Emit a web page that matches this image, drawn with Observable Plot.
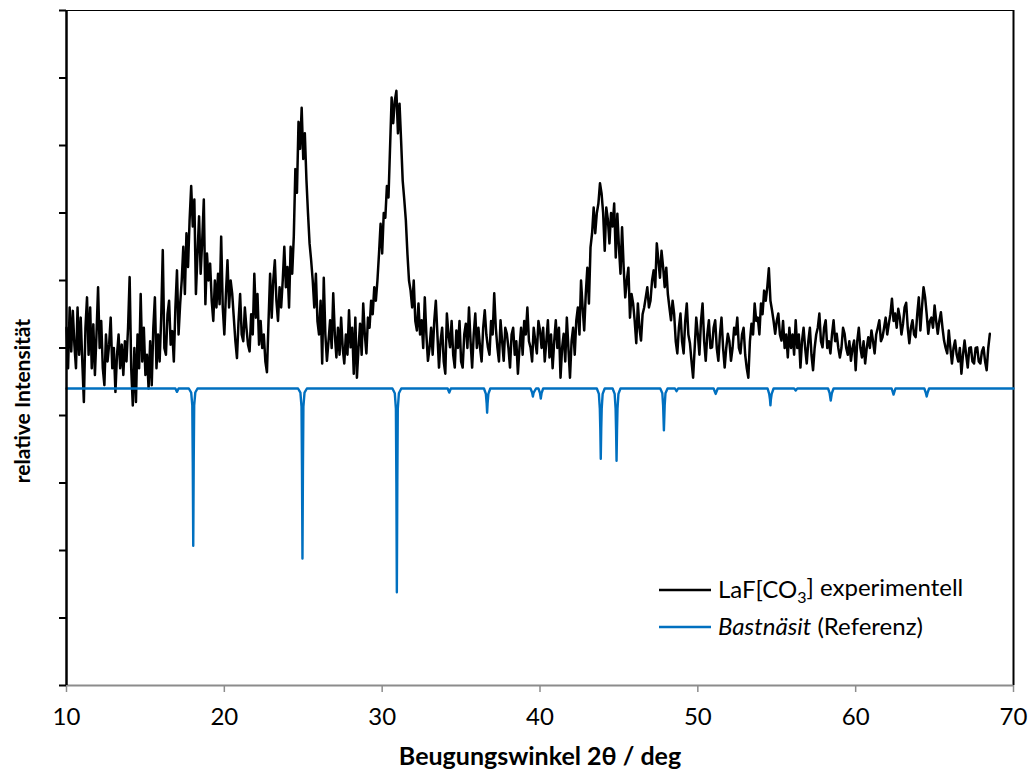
<!DOCTYPE html>
<html>
<head>
<meta charset="utf-8">
<script src="https://cdn.jsdelivr.net/npm/d3@7"></script>
<script src="https://cdn.jsdelivr.net/npm/@observablehq/plot@0.6"></script>
<style>
  body { margin: 0; background: #fff; }
  #chart { width: 1029px; height: 769px; }
</style>
</head>
<body>
<div id="chart"></div>
<script>
// Measured powder pattern, sampled every 0.1° from 10.0° to 68.5° (2θ)
const expStart = 10.0;
const expStep = 0.1;
const expIntensity = [
  530,470,560,495,555,505,470,560,490,545,
  480,420,530,575,490,560,470,535,460,520,
  590,500,540,470,445,520,480,505,545,470,
  500,435,490,520,470,505,460,510,480,530,
  605,470,415,500,420,520,470,580,480,530,
  460,490,440,510,445,530,575,470,520,480,
  545,645,500,490,550,570,505,525,480,560,
  615,520,565,600,650,580,670,620,690,740,
  680,720,580,640,695,610,660,720,565,640,
  600,625,570,540,600,560,610,565,665,560,
  520,580,630,560,600,580,545,510,485,540,
  580,520,510,560,530,505,495,550,520,610,
  545,580,505,540,500,520,480,464,540,610,
  545,600,630,570,540,590,560,600,650,590,
  620,560,650,610,665,765,730,835,795,856,
  780,818,750,700,655,630,600,560,610,540,
  520,570,477,604,520,481,510,541,500,581,
  520,486,530,490,545,500,477,520,490,556,
  501,530,462,545,456,500,536,490,566,520,
  492,545,530,570,550,590,570,600,640,684,
  640,700,693,740,723,797,871,833,866,881,
  818,862,807,748,720,689,640,600,585,560,
  600,540,526,566,520,541,500,575,520,481,
  500,530,490,540,570,520,471,510,530,480,
  462,551,520,501,540,490,471,526,500,540,
  480,471,520,536,500,560,510,471,520,551,
  500,530,501,480,530,556,520,501,490,540,
  520,581,530,501,480,541,510,481,530,521,
  500,471,520,530,490,510,462,500,530,490,
  540,520,560,510,501,480,530,510,492,540,
  526,500,530,480,510,541,486,520,470,510,
  541,500,530,456,500,521,480,545,500,456,
  510,530,490,541,560,520,600,560,526,580,
  619,566,649,670,708,670,700,714,744,729,
  700,644,708,690,655,700,680,714,634,699,
  650,610,679,620,575,600,619,545,580,566,
  540,507,566,530,511,550,560,575,590,560,
  570,600,615,590,655,630,604,644,620,590,
  619,580,560,541,570,550,510,492,530,551,
  510,492,540,566,520,507,480,456,500,545,
  520,490,540,566,510,481,520,541,500,501,
  530,541,500,481,520,545,500,471,500,521,
  510,481,500,530,520,545,500,492,520,530,
  490,470,456,510,536,520,566,540,545,520,
  566,550,585,570,590,618,570,556,540,521,
  540,551,520,511,540,500,520,486,530,500,
  520,490,541,500,520,471,510,530,500,477,
  510,530,490,467,500,520,530,551,510,501,
  530,541,500,510,492,520,541,510,521,500,
  486,500,530,521,500,490,510,481,500,511,
  467,510,530,500,486,510,477,500,516,500,
  526,510,492,520,530,541,510,516,530,545,
  520,536,550,573,540,551,530,558,545,520,
  536,560,567,530,507,530,541,520,516,550,
  575,526,560,590,575,550,521,540,545,530,
  563,540,521,540,553,530,511,500,492,526,
  500,477,500,511,490,480,500,462,490,511,
  490,471,500,501,480,477,500,501,480,477,
  495,501,480,467,500,521
];

// Reference pattern (Bastnäsit): baseline with downward reflections
const refAngle = [
  10,
  16.9, 17.0, 17.1,
  17.75, 17.9, 17.97, 18.0, 18.03, 18.06, 18.09, 18.16, 18.3,
  24.67, 24.82, 24.89, 24.92, 24.95, 24.98, 25.01, 25.08, 25.23,
  30.65, 30.8, 30.87, 30.9, 30.93, 30.96, 30.99, 31.06, 31.21,
  34.15, 34.25, 34.35,
  36.45, 36.57, 36.62, 36.65, 36.68, 36.73, 36.85,
  39.4, 39.5, 39.55, 39.6, 39.75, 39.9, 40.0, 40.05, 40.1, 40.2,
  43.6, 43.73, 43.79, 43.82, 43.85, 43.88, 43.91, 43.97, 44.1,
  44.6, 44.73, 44.79, 44.82, 44.85, 44.88, 44.91, 44.97, 45.1,
  47.62, 47.75, 47.8, 47.85, 47.9, 47.95, 48.08,
  48.55, 48.65, 48.75,
  51.0, 51.13, 51.26,
  54.42, 54.52, 54.57, 54.6, 54.63, 54.68, 54.8,
  56.1, 56.2, 56.3,
  58.25, 58.35, 58.42, 58.49, 58.6,
  62.28, 62.4, 62.52,
  64.35, 64.45, 64.5, 64.55, 64.65,
  70
];
const refIntensity = [
  440,
  440, 435, 440,
  440, 434, 415, 330, 207, 330, 415, 434, 440,
  440, 434, 413, 320, 188, 320, 413, 434, 440,
  440, 433, 410, 300, 138, 300, 410, 433, 440,
  440, 434, 440,
  440, 432, 418, 404, 418, 432, 440,
  440, 434, 428, 434, 440, 440, 433, 425, 433, 440,
  440, 432, 410, 380, 336, 380, 410, 432, 440,
  440, 432, 410, 378, 333, 378, 410, 432, 440,
  440, 433, 415, 378, 415, 433, 440,
  440, 436, 440,
  440, 432, 440,
  440, 432, 424, 415, 424, 432, 440,
  440, 437, 440,
  440, 433, 422, 433, 440,
  440, 431, 440,
  440, 433, 428, 433, 440,
  440
];

const xTicks = [10, 20, 30, 40, 50, 60, 70];
const yTicks = [0, 100, 200, 300, 400, 500, 600, 700, 800, 900, 1000];
const xTitle = "Beugungswinkel 2θ / deg";
const yTitle = "relative Intensität";

const expRows = expIntensity.map((v, i) => ({angle: +(expStart + i * expStep).toFixed(1), intensity: v}));
const refRows = refAngle.map((a, i) => ({angle: a, intensity: refIntensity[i]}));

const font = "Lato, 'Open Sans', sans-serif";
const blue = "#0070C0";

const plot = Plot.plot({
  width: 1029,
  height: 769,
  marginTop: 10,
  marginRight: 16,
  marginBottom: 84,
  marginLeft: 66,
  style: {fontFamily: font, fontSize: "22px", color: "black", background: "white", overflow: "visible"},
  x: {domain: [10, 70]},
  y: {domain: [0, 1000]},
  marks: [
    Plot.ruleY([1000], {stroke: "black", strokeWidth: 1}),
    Plot.ruleX([70], {stroke: "black", strokeWidth: 2}),
    Plot.line(expRows, {x: "angle", y: "intensity", stroke: "black", strokeWidth: 2.5, strokeLinejoin: "round"}),
    Plot.line(refRows, {x: "angle", y: "intensity", stroke: blue, strokeWidth: 2.4, strokeLinejoin: "round"}),
    Plot.axisX({ticks: xTicks, tickSize: 7, tickFormat: () => "", stroke: "#8c8c8c", strokeWidth: 1.5, label: null}),
    Plot.text(xTicks, {x: d => d, frameAnchor: "bottom", dy: 32, lineAnchor: "middle", fontSize: 24, fill: "black"}),
    Plot.ruleY([0], {stroke: "#8c8c8c", strokeWidth: 2}),
    Plot.axisY({ticks: yTicks, tickSize: 7, tickFormat: () => "", stroke: "black", strokeWidth: 2, label: null}),
    Plot.ruleX([10], {stroke: "black", strokeWidth: 2.5}),
    Plot.text([xTitle], {frameAnchor: "bottom", dy: 71, lineAnchor: "middle", fontWeight: "bold", fontSize: 25, fill: "black"})
  ]
});

const svg = d3.select(plot);

// Vertical axis title
svg.append("text")
  .attr("transform", "translate(23,401) rotate(-90)")
  .attr("text-anchor", "middle")
  .attr("dy", "0.35em")
  .attr("font-family", font)
  .attr("font-size", 21)
  .attr("font-weight", "bold")
  .attr("fill", "black")
  .text(yTitle);

// Legend inside the plot area
const legend = svg.append("g")
  .attr("font-family", font)
  .attr("font-size", 24)
  .attr("fill", "black")
  .attr("text-anchor", "start");
const items = [
  {color: "black", y: 590},
  {color: blue, y: 627}
];
items.forEach(d => {
  legend.append("line").attr("x1", 659).attr("x2", 711).attr("y1", d.y).attr("y2", d.y)
    .attr("stroke", d.color).attr("stroke-width", 2.4);
});
const t1 = legend.append("text").attr("x", 718).attr("y", 590).attr("dy", "0.35em");
t1.append("tspan").text("LaF[CO");
t1.append("tspan").attr("font-size", 16).attr("dy", "0.3em").text("3");
t1.append("tspan").attr("dy", "-0.3em").text("] experimentell");
const t2 = legend.append("text").attr("x", 718).attr("y", 627).attr("dy", "0.35em");
t2.append("tspan").attr("font-style", "italic").text("Bastnäsit");
t2.append("tspan").text(" (Referenz)");

document.getElementById("chart").append(plot);
</script>
</body>
</html>
